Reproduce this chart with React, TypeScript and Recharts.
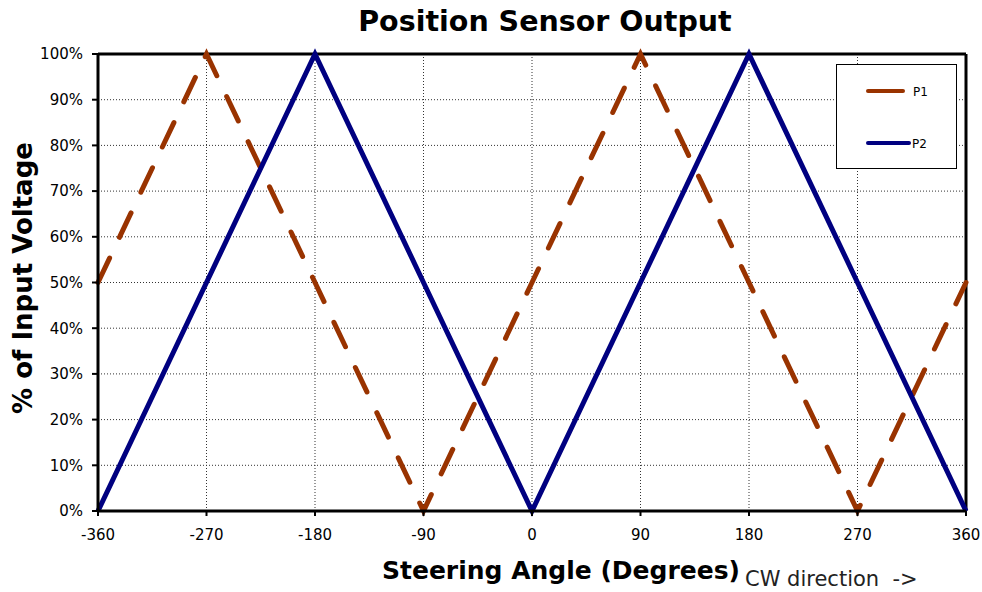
import React from "react";
import { LineChart, Line, XAxis, YAxis, CartesianGrid, ReferenceLine } from "recharts";

const angles = [-360, -270, -180, -90, 0, 90, 180, 270, 360];
const p1Values = [50, 100, 50, 0, 50, 100, 50, 0, 50];
const p2Values = [0, 50, 100, 50, 0, 50, 100, 50, 0];
const xTicks = [-360, -270, -180, -90, 0, 90, 180, 270, 360];
const yTicks = [0, 10, 20, 30, 40, 50, 60, 70, 80, 90, 100];

const data = angles.map((a, i) => ({ angle: a, P1: p1Values[i], P2: p2Values[i] }));

const FONT = "Verdana, 'DejaVu Sans', sans-serif";
const P1_COLOR = "#993300";
const P2_COLOR = "#000080";

const LegendBox = () => (
  <div
    style={{
      position: "absolute",
      left: 836,
      top: 64,
      width: 119,
      height: 103,
      border: "1px solid #000",
      background: "#fff",
    }}
  >
    <svg width={119} height={103} style={{ position: "absolute", left: 0, top: 0 }}>
      <line x1={31} y1={26} x2={66} y2={26} stroke={P1_COLOR} strokeWidth={4} strokeLinecap="round" />
      <text x={76} y={31} fontFamily={FONT} fontSize={12} fill="#000">P1</text>
      <line x1={31} y1={78} x2={72} y2={78} stroke={P2_COLOR} strokeWidth={4} strokeLinecap="round" />
      <text x={75} y={83} fontFamily={FONT} fontSize={12} fill="#000">P2</text>
    </svg>
  </div>
);

export default function App() {
  return (
    <div style={{ position: "absolute", left: 0, top: 0, width: 982, height: 592, background: "#fff", fontFamily: FONT }}>
      <div style={{ position: "absolute", left: 0, top: 0 }}>
        <LineChart width={982} height={592} data={data} margin={{ top: 54, right: 16, left: 0, bottom: 0 }}>
          <CartesianGrid stroke="#333" strokeDasharray="1 2" strokeWidth={1} />
          <XAxis
            dataKey="angle"
            type="number"
            domain={[-360, 360]}
            ticks={xTicks}
            height={81}
            axisLine={{ stroke: "#000", strokeWidth: 3 }}
            tickLine={{ stroke: "#000", strokeWidth: 2 }}
            tickSize={5}
            tick={{ fill: "#000", fontSize: 15, fontFamily: FONT, dy: 11 }}
            interval={0}
          />
          <YAxis
            type="number"
            domain={[0, 100]}
            ticks={yTicks}
            width={98}
            axisLine={{ stroke: "#000", strokeWidth: 3 }}
            tickLine={{ stroke: "#000", strokeWidth: 2 }}
            tickSize={6}
            tickFormatter={(v) => `${v}%`}
            tick={{ fill: "#000", fontSize: 15, fontFamily: FONT, dx: -7 }}
            interval={0}
          />
          <ReferenceLine y={100} stroke="#000" strokeWidth={3} />
          <ReferenceLine x={360} stroke="#000" strokeWidth={3} />
          <Line
            dataKey="P1"
            stroke={P1_COLOR}
            strokeWidth={5}
            strokeDasharray="27 23"
            strokeLinecap="round"
            dot={false}
            isAnimationActive={false}
          />
          <Line
            dataKey="P2"
            stroke={P2_COLOR}
            strokeWidth={5}
            dot={false}
            isAnimationActive={false}
          />
        </LineChart>
      </div>
      <LegendBox />
      <div
        style={{
          position: "absolute",
          left: 0,
          width: 1090,
          top: 5,
          textAlign: "center",
          fontWeight: "bold",
          fontSize: 28.5,
          lineHeight: "34px",
          color: "#000",
        }}
      >
        Position Sensor Output
      </div>
      <div
        style={{
          position: "absolute",
          left: 23,
          top: 278,
          transform: "translate(-50%, -50%) rotate(-90deg)",
          whiteSpace: "nowrap",
          fontWeight: "bold",
          fontSize: 26,
          lineHeight: "30px",
          color: "#000",
        }}
      >
        % of Input Voltage
      </div>
      <div
        style={{
          position: "absolute",
          left: 382,
          top: 556,
          whiteSpace: "nowrap",
          fontWeight: "bold",
          fontSize: 25,
          lineHeight: "30px",
          color: "#000",
        }}
      >
        Steering Angle (Degrees)
      </div>
      <div
        style={{
          position: "absolute",
          left: 745,
          top: 567,
          whiteSpace: "nowrap",
          fontSize: 21,
          lineHeight: "25px",
          color: "#222",
        }}
      >
        CW direction&nbsp;&nbsp;-&gt;
      </div>
    </div>
  );
}
